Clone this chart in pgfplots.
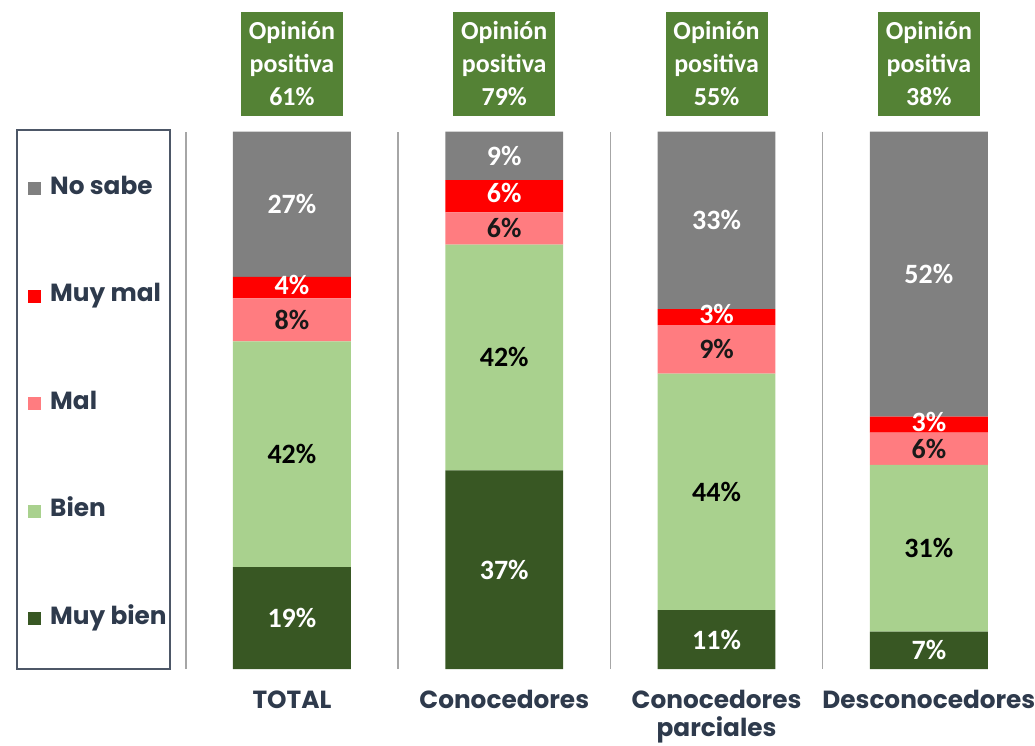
\documentclass[border=0pt]{standalone}
\usepackage{pgfplots}
\pgfplotsset{compat=1.18}
\usepackage{pgfplotstable}
\usepackage{fontspec}
\setmainfont{Carlito}
\newfontfamily\gothic{Poppins}
\definecolor{nosabe}{HTML}{808080}
\definecolor{muymal}{HTML}{FF0000}
\definecolor{mal}{HTML}{FF7C80}
\definecolor{bien}{HTML}{A9D18E}
\definecolor{muybien}{HTML}{385723}
\definecolor{boxgreen}{HTML}{548235}
\definecolor{slate}{HTML}{2E3A4C}
\definecolor{sepc}{HTML}{A6A6A6}

\pgfplotstableread{
x y lab
0 19 19
1 37 37
2 11 11
3 7 7
}\tmuybien
\pgfplotstableread{
x y lab
0 42 42
1 42 42
2 44 44
3 31 31
}\tbien
\pgfplotstableread{
x y lab
0 8 8
1 6 6
2 9 9
3 6 6
}\tmal
\pgfplotstableread{
x y lab
0 4 4
1 6 6
2 3 3
3 3 3
}\tmuymal
\pgfplotstableread{
x y lab
0 27 27
1 9 9
2 33 33
3 53 52
}\tnosabe

\tikzset{opbox/.style={fill=boxgreen, text=white, font=\bfseries\fontsize{13}{16.5}\selectfont, align=center,
        minimum width=51pt, minimum height=52.5pt, inner sep=0pt}}

\begin{document}
\begin{tikzpicture}
\begin{axis}[
  ybar stacked, bar width=59pt,
  width=425pt, height=269pt, scale only axis,
  xmin=-0.5, xmax=3.5, ymin=0, ymax=100,
  clip=false,
  axis line style={draw=none},
  tick style={draw=none},
  major tick length=0pt,
  ytick=\empty,
  xtick={0,1,2,3},
  xticklabels={TOTAL,Conocedores,{Conocedores\\parciales},Desconocedores},
  xticklabel style={font=\gothic\bfseries\fontsize{12.4}{13.8}\selectfont, text=slate, align=center, inner sep=0pt, yshift=-10.5pt},
  minor xtick={-0.5,0.5,1.5,2.5},
  xminorgrids,
  minor x grid style={sepc, line width=0.75pt},
  /pgf/number format/assume math mode=true,
  point meta=explicit,
  nodes near coords={\pgfmathprintnumber{\pgfplotspointmeta}\%},
  every node near coord/.append style={font=\bfseries\fontsize{14}{15}\selectfont, inner ysep=0.5pt},
  legend style={draw=none, fill=none, at={(axis description cs:-0.186,0.914)}, anchor=north west,
    font=\gothic\bfseries\fontsize{12.4}{14}\selectfont, text=slate,
    row sep=43.3pt, inner sep=0pt,
    nodes={inner sep=0pt, text height=8pt, text depth=2.5pt}},
  legend cell align=left,
  reverse legend,
  legend image code/.code={\fill[#1] (0pt,-3.2pt) rectangle (6.4pt,3.2pt); \path (11pt,0pt);},
]
\addplot[fill=muybien, draw=none, every node near coord/.append style={text=white}] table[x=x,y=y,meta=lab]{\tmuybien};
\addlegendentry{Muy bien}
\addplot[fill=bien, draw=none, every node near coord/.append style={text=black}] table[x=x,y=y,meta=lab]{\tbien};
\addlegendentry{Bien}
\addplot[fill=mal, draw=none, every node near coord/.append style={text=black!90}] table[x=x,y=y,meta=lab]{\tmal};
\addlegendentry{Mal}
\addplot[fill=muymal, draw=none, every node near coord/.append style={text=white, yshift=1.5pt}] table[x=x,y=y,meta=lab]{\tmuymal};
\addlegendentry{Muy mal}
\addplot[fill=nosabe, draw=none, every node near coord/.append style={text=white}] table[x=x,y=y,meta=lab]{\tnosabe};
\addlegendentry{No sabe}

\draw[slate!85, line width=1pt] (axis description cs:-0.1988,1.0037) rectangle (axis description cs:-0.0188,0);
\node[opbox] at (axis cs:0,112.6) {Opinión\\positiva\\61\%};
\node[opbox] at (axis cs:1,112.6) {Opinión\\positiva\\79\%};
\node[opbox] at (axis cs:2,112.6) {Opinión\\positiva\\55\%};
\node[opbox] at (axis cs:3,112.6) {Opinión\\positiva\\38\%};
\coordinate (bbsw) at (axis cs:-1.375,-14.13);
\coordinate (bbne) at (axis cs:3.5,124.5);
\end{axis}
\pgfresetboundingbox
\useasboundingbox (bbsw) rectangle (bbne);
\end{tikzpicture}
\end{document}
